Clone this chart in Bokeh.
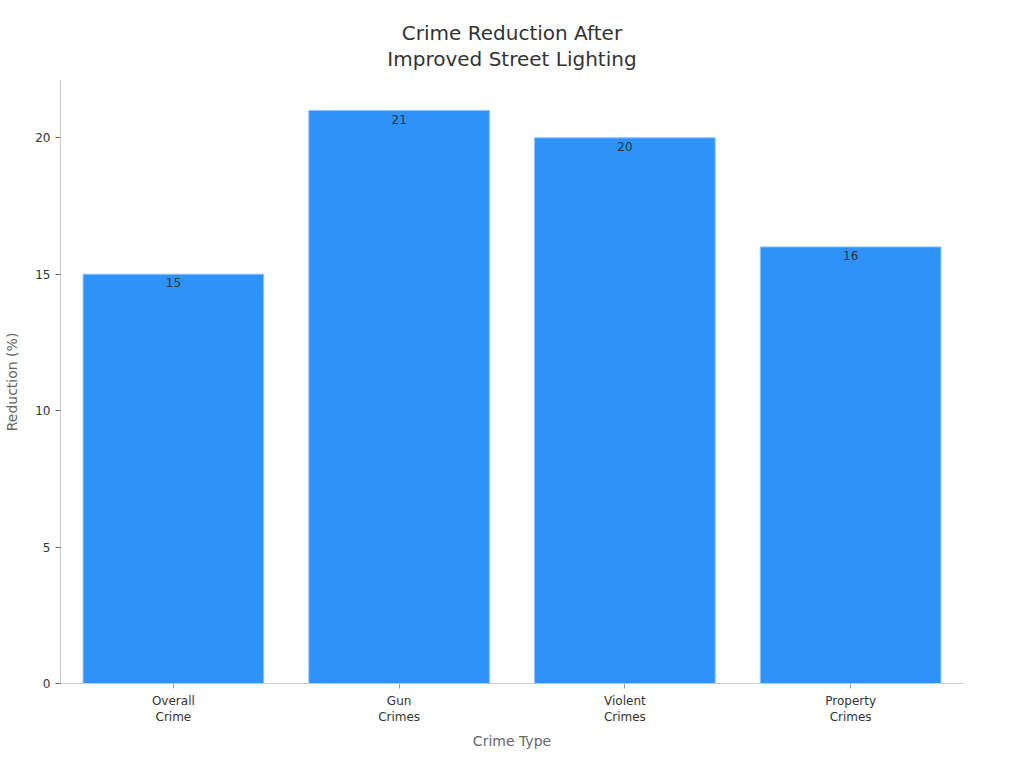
from bokeh.plotting import figure
from bokeh.models import ColumnDataSource, Range1d, FactorRange, Title
from bokeh.embed import file_html
from bokeh.resources import INLINE
from bokeh.core.properties import value

title_lines = ["Crime Reduction After", "Improved Street Lighting"]
categories = ["Overall\nCrime", "Gun\nCrimes", "Violent\nCrimes", "Property\nCrimes"]
reductions = [15, 21, 20, 16]
labels = [str(v) for v in reductions]
y_ticks = [0, 5, 10, 15, 20]

source = ColumnDataSource(dict(cat=categories, val=reductions, lab=labels))

p = figure(width=1008, height=752, output_backend="svg", toolbar_location=None,
           x_range=FactorRange(*categories, range_padding=0),
           y_range=Range1d(0, 22.1))
p.min_border_left = 60
p.min_border_right = 45
p.min_border_top = 80
p.min_border_bottom = 66
p.outline_line_color = None
p.xgrid.grid_line_color = None
p.ygrid.grid_line_color = None

def style_title(t):
    t.align = "center"
    t.text_font = "DejaVu Sans"
    t.text_font_size = "20px"
    t.text_font_style = "normal"
    t.text_color = "#333333"

# the added title sits closest to the plot; the default title sits above it
p.title.text = title_lines[0]
style_title(p.title)
p.title.standoff = -21
t2 = Title(text=title_lines[1], standoff=20)
style_title(t2)
p.add_layout(t2, "above")

p.vbar(x="cat", top="val", width=0.8, source=source,
       fill_color="#2f92f8", line_color="#8cc2fb", line_width=1)

p.text(x="cat", y="val", text="lab", source=source, y_offset=4,
       text_align="center", text_baseline="top",
       text_font=value("DejaVu Sans"), text_font_size="12px", text_color="#333333")

for ax in (p.xaxis[0], p.yaxis[0]):
    ax.axis_line_color = "#cccccc"
    ax.major_tick_line_color = "#666666"
    ax.major_tick_out = 5
    ax.major_tick_in = 0
    ax.minor_tick_line_color = None
    ax.major_label_text_font = "DejaVu Sans"
    ax.major_label_text_font_size = "12px"
    ax.major_label_text_color = "#333333"
    ax.axis_label_text_font = "DejaVu Sans"
    ax.axis_label_text_font_size = "14px"
    ax.axis_label_text_font_style = "normal"
    ax.axis_label_text_color = "#666666"

p.xaxis.axis_label = "Crime Type"
p.yaxis.axis_label = "Reduction (%)"
p.yaxis.ticker = y_ticks
p.xaxis.major_tick_line_color = "#999999"
p.xaxis.axis_label_standoff = 6
p.yaxis.axis_label_standoff = 12

open("out.html", "w").write(file_html(p, INLINE))
